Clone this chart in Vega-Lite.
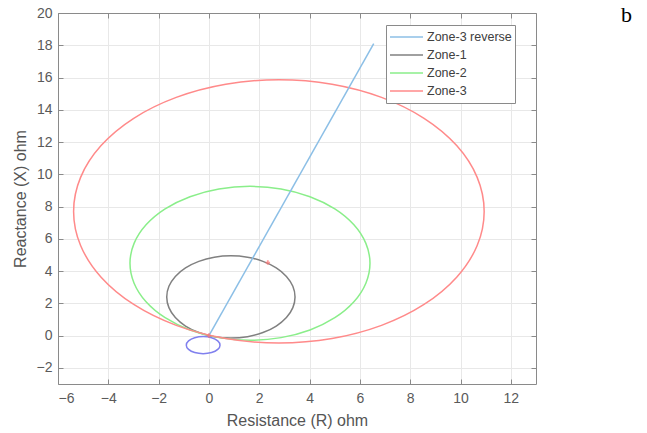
{
  "$schema": "https://vega.github.io/schema/vega-lite/v6.json",
  "width": 478,
  "height": 371,
  "autosize": {"type": "none"},
  "padding": {"left": 58, "top": 13, "right": 111, "bottom": 49},
  "background": "white",
  "config": {
    "view": {"stroke": null},
    "font": "Liberation Sans",
    "axis": {
      "domainColor": "#8a8a8a",
      "domainWidth": 1,
      "tickColor": "#8a8a8a",
      "tickSize": -5,
      "gridColor": "#e8e8e8",
      "gridWidth": 1,
      "labelColor": "#5a5a5a",
      "labelFontSize": 14,
      "titleColor": "#555555",
      "titleFontSize": 16,
      "titleFontWeight": "normal"
    },
    "legend": {
      "orient": "none",
      "legendX": 328,
      "legendY": 12,
      "strokeColor": "#8a8a8a",
      "fillColor": "white",
      "padding": 3,
      "symbolType": "stroke",
      "symbolSize": 1089,
      "symbolStrokeWidth": 1.5,
      "clipHeight": 18,
      "rowPadding": 0,
      "labelOffset": 3,
      "labelFontSize": 12.5,
      "labelColor": "#404040",
      "title": null
    }
  },
  "datasets": {
    "circles": [
      {"s": "Zone-1", "i": 0, "x": 3.422, "y": 2.396},
      {"s": "Zone-1", "i": 1, "x": 3.335, "y": 3.056},
      {"s": "Zone-1", "i": 2, "x": 3.080, "y": 3.671},
      {"s": "Zone-1", "i": 3, "x": 2.675, "y": 4.199},
      {"s": "Zone-1", "i": 4, "x": 2.147, "y": 4.604},
      {"s": "Zone-1", "i": 5, "x": 1.532, "y": 4.859},
      {"s": "Zone-1", "i": 6, "x": 0.872, "y": 4.946},
      {"s": "Zone-1", "i": 7, "x": 0.212, "y": 4.859},
      {"s": "Zone-1", "i": 8, "x": -0.403, "y": 4.604},
      {"s": "Zone-1", "i": 9, "x": -0.931, "y": 4.199},
      {"s": "Zone-1", "i": 10, "x": -1.336, "y": 3.671},
      {"s": "Zone-1", "i": 11, "x": -1.591, "y": 3.056},
      {"s": "Zone-1", "i": 12, "x": -1.678, "y": 2.396},
      {"s": "Zone-1", "i": 13, "x": -1.591, "y": 1.736},
      {"s": "Zone-1", "i": 14, "x": -1.336, "y": 1.121},
      {"s": "Zone-1", "i": 15, "x": -0.931, "y": 0.593},
      {"s": "Zone-1", "i": 16, "x": -0.403, "y": 0.188},
      {"s": "Zone-1", "i": 17, "x": 0.212, "y": -0.067},
      {"s": "Zone-1", "i": 18, "x": 0.872, "y": -0.154},
      {"s": "Zone-1", "i": 19, "x": 1.532, "y": -0.067},
      {"s": "Zone-1", "i": 20, "x": 2.147, "y": 0.188},
      {"s": "Zone-1", "i": 21, "x": 2.675, "y": 0.593},
      {"s": "Zone-1", "i": 22, "x": 3.080, "y": 1.121},
      {"s": "Zone-1", "i": 23, "x": 3.335, "y": 1.736},
      {"s": "Zone-2", "i": 0, "x": 6.401, "y": 4.482},
      {"s": "Zone-2", "i": 1, "x": 6.238, "y": 5.716},
      {"s": "Zone-2", "i": 2, "x": 5.762, "y": 6.867},
      {"s": "Zone-2", "i": 3, "x": 5.004, "y": 7.855},
      {"s": "Zone-2", "i": 4, "x": 4.016, "y": 8.613},
      {"s": "Zone-2", "i": 5, "x": 2.865, "y": 9.089},
      {"s": "Zone-2", "i": 6, "x": 1.631, "y": 9.252},
      {"s": "Zone-2", "i": 7, "x": 0.397, "y": 9.089},
      {"s": "Zone-2", "i": 8, "x": -0.754, "y": 8.613},
      {"s": "Zone-2", "i": 9, "x": -1.742, "y": 7.855},
      {"s": "Zone-2", "i": 10, "x": -2.500, "y": 6.867},
      {"s": "Zone-2", "i": 11, "x": -2.976, "y": 5.716},
      {"s": "Zone-2", "i": 12, "x": -3.139, "y": 4.482},
      {"s": "Zone-2", "i": 13, "x": -2.976, "y": 3.248},
      {"s": "Zone-2", "i": 14, "x": -2.500, "y": 2.097},
      {"s": "Zone-2", "i": 15, "x": -1.742, "y": 1.109},
      {"s": "Zone-2", "i": 16, "x": -0.754, "y": 0.351},
      {"s": "Zone-2", "i": 17, "x": 0.397, "y": -0.125},
      {"s": "Zone-2", "i": 18, "x": 1.631, "y": -0.288},
      {"s": "Zone-2", "i": 19, "x": 2.865, "y": -0.125},
      {"s": "Zone-2", "i": 20, "x": 4.016, "y": 0.351},
      {"s": "Zone-2", "i": 21, "x": 5.004, "y": 1.109},
      {"s": "Zone-2", "i": 22, "x": 5.762, "y": 2.097},
      {"s": "Zone-2", "i": 23, "x": 6.238, "y": 3.248},
      {"s": "Zone-3", "i": 0, "x": 10.94, "y": 7.70},
      {"s": "Zone-3", "i": 1, "x": 10.662, "y": 9.812},
      {"s": "Zone-3", "i": 2, "x": 9.847, "y": 11.78},
      {"s": "Zone-3", "i": 3, "x": 8.55, "y": 13.47},
      {"s": "Zone-3", "i": 4, "x": 6.86, "y": 14.767},
      {"s": "Zone-3", "i": 5, "x": 4.892, "y": 15.582},
      {"s": "Zone-3", "i": 6, "x": 2.78, "y": 15.86},
      {"s": "Zone-3", "i": 7, "x": 0.668, "y": 15.582},
      {"s": "Zone-3", "i": 8, "x": -1.30, "y": 14.767},
      {"s": "Zone-3", "i": 9, "x": -2.99, "y": 13.47},
      {"s": "Zone-3", "i": 10, "x": -4.287, "y": 11.78},
      {"s": "Zone-3", "i": 11, "x": -5.102, "y": 9.812},
      {"s": "Zone-3", "i": 12, "x": -5.38, "y": 7.70},
      {"s": "Zone-3", "i": 13, "x": -5.102, "y": 5.588},
      {"s": "Zone-3", "i": 14, "x": -4.287, "y": 3.62},
      {"s": "Zone-3", "i": 15, "x": -2.99, "y": 1.93},
      {"s": "Zone-3", "i": 16, "x": -1.30, "y": 0.633},
      {"s": "Zone-3", "i": 17, "x": 0.668, "y": -0.182},
      {"s": "Zone-3", "i": 18, "x": 2.78, "y": -0.46},
      {"s": "Zone-3", "i": 19, "x": 4.892, "y": -0.182},
      {"s": "Zone-3", "i": 20, "x": 6.86, "y": 0.633},
      {"s": "Zone-3", "i": 21, "x": 8.55, "y": 1.93},
      {"s": "Zone-3", "i": 22, "x": 9.847, "y": 3.62},
      {"s": "Zone-3", "i": 23, "x": 10.662, "y": 5.588}
    ],
    "reverse": [
      {"s": "Zone-3 reverse", "i": 0, "x": 0, "y": 0},
      {"s": "Zone-3 reverse", "i": 1, "x": 6.55, "y": 18.1}
    ],
    "small": [
      {"i": 0, "x": 0.44, "y": -0.59},
      {"i": 1, "x": 0.35, "y": -0.325},
      {"i": 2, "x": 0.105, "y": -0.13},
      {"i": 3, "x": -0.23, "y": -0.06},
      {"i": 4, "x": -0.565, "y": -0.13},
      {"i": 5, "x": -0.81, "y": -0.325},
      {"i": 6, "x": -0.90, "y": -0.59},
      {"i": 7, "x": -0.81, "y": -0.855},
      {"i": 8, "x": -0.565, "y": -1.05},
      {"i": 9, "x": -0.23, "y": -1.12},
      {"i": 10, "x": 0.105, "y": -1.05},
      {"i": 11, "x": 0.35, "y": -0.855}
    ],
    "markers": [
      {"x": 2.34, "y": 4.53},
      {"x": 0, "y": 0}
    ],
    "label": [
      {"x": 16.6, "y": 19.85, "t": "b"}
    ]
  },
  "layer": [
    {
      "data": {"name": "circles"},
      "mark": {"type": "line", "interpolate": "cardinal-closed", "strokeWidth": 1.5},
      "encoding": {
        "x": {
          "field": "x", "type": "quantitative",
          "scale": {"domain": [-6, 13], "nice": false, "zero": false},
          "axis": {"orient": "bottom", "values": [-6, -4, -2, 0, 2, 4, 6, 8, 10, 12], "grid": true, "title": "Resistance (R) ohm", "labelPadding": 12, "titlePadding": 7}
        },
        "y": {
          "field": "y", "type": "quantitative",
          "scale": {"domain": [-3, 20], "nice": false, "zero": false},
          "axis": {"orient": "left", "values": [-2, 0, 2, 4, 6, 8, 10, 12, 14, 16, 18, 20], "grid": true, "title": "Reactance (X) ohm", "labelPadding": 11, "titlePadding": 8}
        },
        "color": {
          "field": "s", "type": "nominal",
          "scale": {"domain": ["Zone-3 reverse", "Zone-1", "Zone-2", "Zone-3"], "range": ["#8cbfe6", "#808080", "#8aee8a", "#ff8a8a"]}
        },
        "detail": {"field": "s"},
        "order": {"field": "i", "type": "quantitative"}
      }
    },
    {
      "data": {"name": "reverse"},
      "mark": {"type": "line", "strokeWidth": 1.5},
      "encoding": {
        "x": {"field": "x", "type": "quantitative", "axis": null},
        "y": {"field": "y", "type": "quantitative", "axis": null},
        "color": {"field": "s", "type": "nominal"},
        "order": {"field": "i", "type": "quantitative"}
      }
    },
    {
      "data": {"name": "small"},
      "mark": {"type": "line", "interpolate": "cardinal-closed", "strokeWidth": 1.5, "color": "#8080ee"},
      "encoding": {
        "x": {"field": "x", "type": "quantitative", "axis": null},
        "y": {"field": "y", "type": "quantitative", "axis": null},
        "order": {"field": "i", "type": "quantitative"}
      }
    },
    {
      "data": {"name": "markers"},
      "mark": {"type": "point", "shape": "cross", "filled": true, "size": 20, "color": "#ff7070"},
      "encoding": {
        "x": {
          "field": "x", "type": "quantitative",
          "axis": {"orient": "top", "values": [-6, -4, -2, 0, 2, 4, 6, 8, 10, 12], "grid": false, "labels": false, "title": null}
        },
        "y": {
          "field": "y", "type": "quantitative",
          "axis": {"orient": "right", "values": [-2, 0, 2, 4, 6, 8, 10, 12, 14, 16, 18, 20], "grid": false, "labels": false, "title": null}
        }
      }
    },
    {
      "data": {"name": "label"},
      "mark": {"type": "text", "font": "Liberation Serif", "fontSize": 22, "color": "#000000", "baseline": "middle", "align": "center", "clip": false},
      "encoding": {
        "x": {"field": "x", "type": "quantitative", "axis": null},
        "y": {"field": "y", "type": "quantitative", "axis": null},
        "text": {"field": "t"}
      }
    }
  ],
  "resolve": {"axis": {"x": "independent", "y": "independent"}}
}
